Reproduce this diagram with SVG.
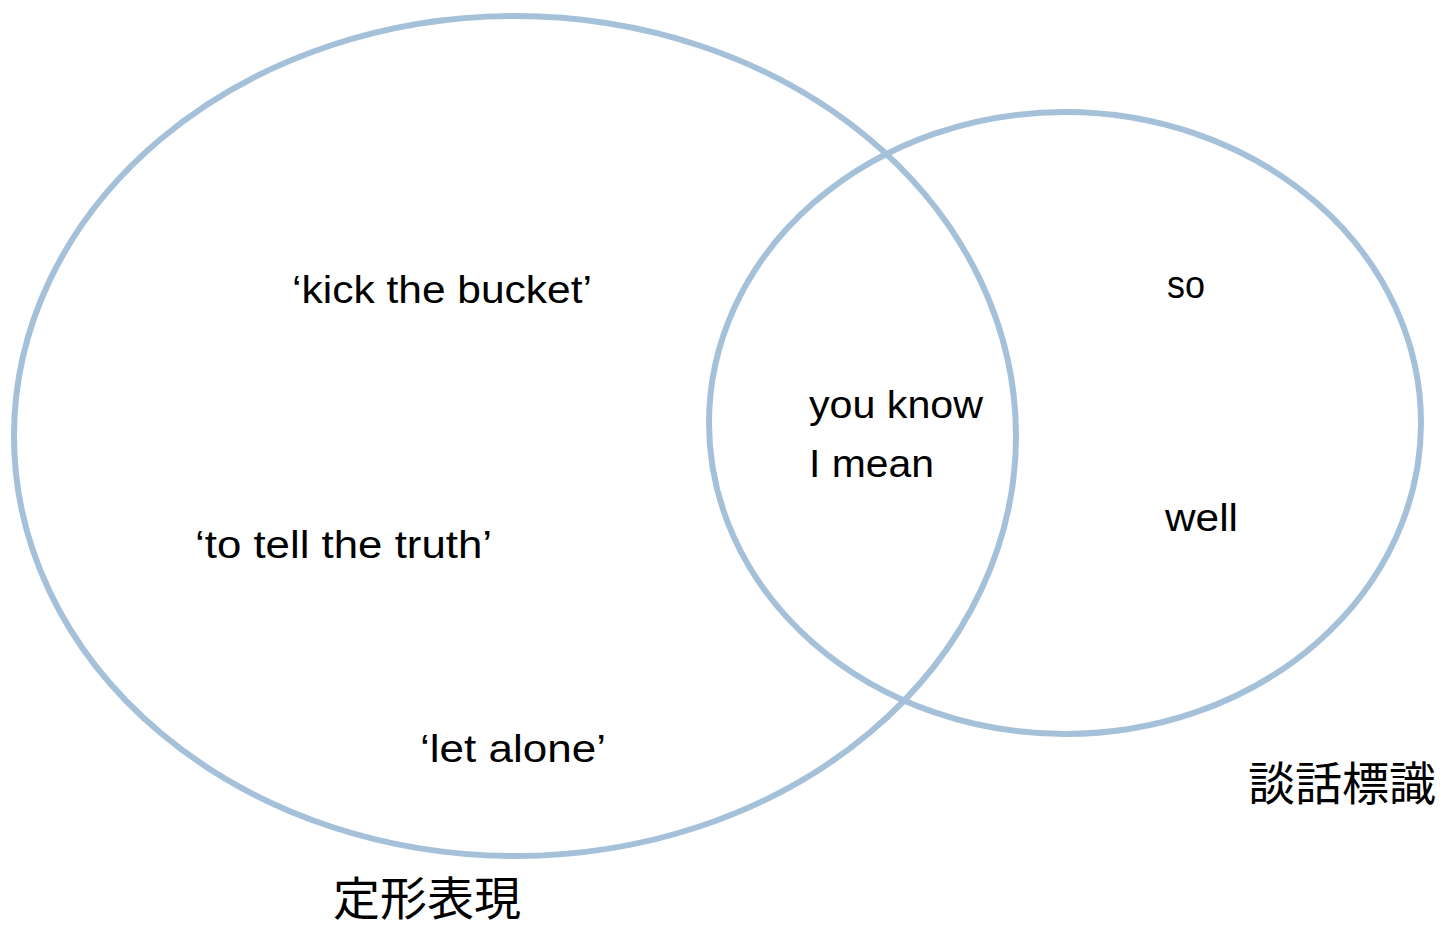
<svg xmlns="http://www.w3.org/2000/svg" width="1441" height="926" viewBox="0 0 1441 926">
<style>
.ring{fill:none;stroke:#a5c1da;stroke-width:6}
.t{font-family:"Liberation Sans","DejaVu Sans",sans-serif;font-size:38px;fill:#000}
.cjk{font-family:"Noto Sans CJK JP","Noto Sans CJK SC",sans-serif;font-size:46px;font-weight:normal;fill:#000}
</style>
<rect width="1441" height="926" fill="#fff"/>
<g id="set-fixed">
<ellipse class="ring" cx="515" cy="436" rx="501" ry="420"/>
<text class="t" x="292" y="303" textLength="300" lengthAdjust="spacingAndGlyphs">‘kick the bucket’</text>
<text class="t" x="195" y="558" textLength="297" lengthAdjust="spacingAndGlyphs">‘to tell the truth’</text>
<text class="t" x="420" y="762" textLength="186" lengthAdjust="spacingAndGlyphs">‘let alone’</text>
<text class="cjk" x="333" y="915" textLength="188" lengthAdjust="spacingAndGlyphs">定形表現</text>
</g>
<g id="set-discourse">
<ellipse class="ring" cx="1065" cy="423" rx="356" ry="311"/>
<text class="t" x="1167" y="298" textLength="38" lengthAdjust="spacingAndGlyphs">so</text>
<text class="t" x="1165" y="531" textLength="73" lengthAdjust="spacingAndGlyphs">well</text>
<text class="cjk" x="1248" y="800" textLength="188" lengthAdjust="spacingAndGlyphs">談話標識</text>
</g>
<g id="overlap">
<text class="t" x="809" y="418" textLength="174" lengthAdjust="spacingAndGlyphs">you know</text>
<text class="t" x="809" y="477" textLength="125" lengthAdjust="spacingAndGlyphs">I mean</text>
</g>
<g id="connectors"></g>
</svg>
